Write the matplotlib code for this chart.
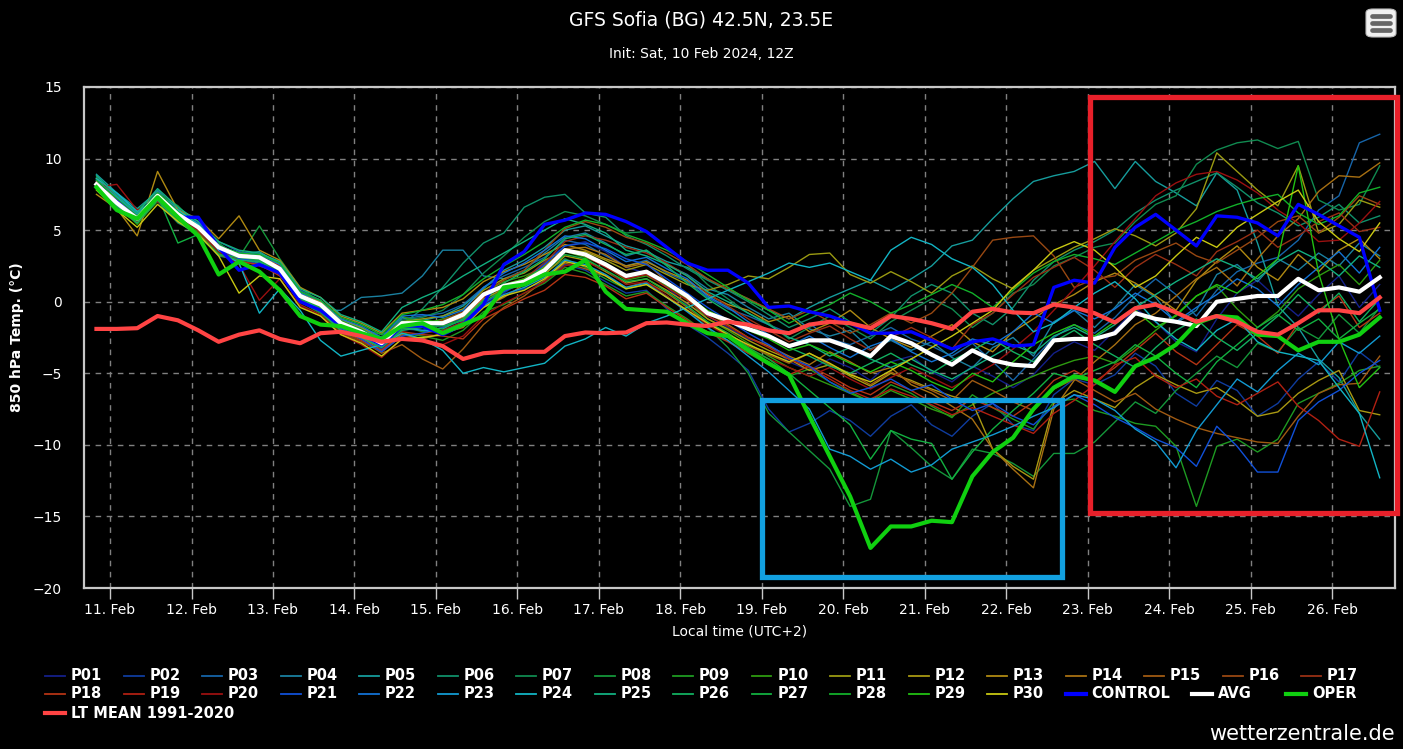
import numpy as np
import pandas as pd
import matplotlib
matplotlib.use("Agg")
import matplotlib.pyplot as plt
import matplotlib.dates as mdates
from matplotlib.patches import Rectangle, FancyBboxPatch
from matplotlib.lines import Line2D

plt.rcParams['font.family'] = ['Liberation Sans Narrow', 'DejaVu Sans']

# 6-hourly steps, local time (UTC+2), init 10 Feb 2024 12Z
times = pd.date_range("2024-02-10 20:00", periods=64, freq="6h")

P01 = [8.0, 6.8, 5.6, 7.2, 6.3, 5.4, 3.6, 2.8, 3.4, 2.0, 0.2, -0.5, -1.8, -2.5, -3.2, -2.0, -1.8, -2.2, -1.5, -0.2,
       0.6, 1.5, 2.8, 3.9, 4.2, 3.5, 2.4, 2.0, 1.0, -0.2, -1.0, -1.8, -2.6, -3.0, -4.2, -4.8, -4.0, -4.6, -5.5, -4.2,
       -3.8, -4.9, -5.6, -4.5, -5.2, -6.0, -5.1, -3.6, -2.8, -3.4, -2.0, -0.5, -1.4, -2.8, -3.5, -1.2, 0.6, 1.5, 0.2, -1.0,
       0.5, 1.8, -0.4, 1.2]
P02 = [8.4, 7.0, 6.0, 7.6, 6.0, 5.0, 3.9, 3.0, 2.6, 2.2, 0.6, -0.4, -1.9, -2.4, -3.3, -1.9, -2.0, -1.6, -1.2, -0.3,
       0.4, 0.9, 1.4, 2.6, 2.2, 1.4, 0.6, 0.8, -0.5, -1.6, -2.5, -3.6, -4.8, -7.5, -9.1, -8.5, -7.6, -8.3, -9.4, -8.0,
       -7.2, -8.6, -9.4, -8.0, -7.1, -8.6, -9.0, -6.5, -5.4, -5.8, -5.1, -3.6, -4.5, -6.4, -7.3, -5.5, -6.2, -8.0, -7.1, -5.4,
       -4.2, -5.6, -3.5, -4.6]
P03 = [8.2, 7.2, 6.1, 7.5, 6.2, 5.5, 4.2, 3.5, 3.3, 2.8, 0.8, 0.1, -1.2, -1.9, -2.6, -1.2, -1.0, -0.8, -0.2, 1.0,
       1.8, 2.4, 3.1, 4.3, 4.0, 3.2, 2.5, 2.9, 2.0, 1.4, 0.3, -0.5, -1.0, -1.6, -2.2, -1.5, -2.6, -3.0, -2.4, -1.8,
       -2.6, -3.1, -3.8, -2.9, -4.2, -5.5, -4.0, -2.5, -1.6, -2.2, -1.1, 0.4, 1.6, 0.5, -1.0, 0.8, 2.1, 2.7, 3.1, 4.3,
       6.4, 7.4, 11.1, 11.7]
P04 = [8.6, 7.5, 6.3, 7.8, 6.4, 5.6, 3.8, 3.0, 2.7, 2.5, 0.3, -0.6, -0.6, 0.3, 0.4, 0.6, 1.8, 3.6, 3.6, 1.8,
       1.6, 2.2, 3.4, 4.5, 4.8, 4.1, 3.2, 3.6, 2.6, 1.9, 0.9, 0.5, -0.4, -1.2, -0.8, -1.9, -2.4, -2.0, -3.3, -2.7,
       -3.4, -2.8, -3.9, -4.6, -3.2, -2.5, -3.8, -1.4, -0.6, -1.8, -0.4, 1.2, 0.3, -1.5, -0.6, 1.9, 2.6, 1.4, 3.0, 2.2,
       3.4, 2.5, 4.1, 3.2]
P05 = [8.9, 7.6, 6.5, 7.7, 6.5, 5.4, 4.0, 3.3, 3.5, 2.6, 0.7, 0.0, -1.3, -1.8, -2.7, -1.1, -1.3, -1.0, -0.3, 0.9,
       2.2, 2.9, 3.8, 5.0, 5.3, 4.6, 3.9, 3.5, 2.8, 2.4, 1.6, 0.8, 0.2, -0.6, -1.2, -0.4, 0.3, 0.9, 1.5, 0.8,
       1.6, 2.5, 3.9, 4.3, 5.8, 7.2, 8.4, 8.8, 9.1, 9.8, 7.9, 9.8, 8.4, 7.6, 6.7, 9.0, 7.8, 4.1, -0.3, -1.8,
       -4.0, -5.3, -7.8, -9.6]
P06 = [8.5, 7.3, 6.2, 7.0, 5.5, 4.8, 3.2, 2.9, 2.9, 1.9, 0.1, -0.8, -2.0, -2.6, -3.0, -1.6, -0.5, 1.0, 2.7, 4.1,
       4.8, 6.6, 7.3, 7.5, 6.2, 5.9, 4.6, 4.0, 3.2, 2.3, 1.5, 0.8, 0.0, -0.9, -1.8, -1.2, -0.5, -1.4, -2.2, -1.1,
       0.4, 1.2, 0.6, -0.8, -1.6, -0.4, 1.5, 2.8, 3.6, 4.2, 5.0, 6.2, 7.1, 7.8, 8.4, 9.0, 8.0, 6.9, 6.2, 5.3,
       5.9, 6.8, 5.5, 6.0]
P07 = [8.1, 6.6, 5.7, 7.3, 5.8, 5.0, 3.5, 3.3, 2.8, 2.3, 0.5, -0.3, -1.6, -2.2, -2.9, -1.3, -1.1, -0.6, 0.5, 2.0,
       3.2, 4.5, 5.6, 6.3, 6.0, 5.4, 4.8, 4.9, 3.8, 2.6, 1.2, 0.2, -0.8, -1.5, -2.6, -1.8, -1.0, -1.8, -2.6, -1.4,
       -0.6, 0.2, -0.5, -1.8, -0.8, 0.6, 1.2, 2.5, 3.1, 3.8, 4.1, 5.6, 6.8, 7.4, 9.6, 10.6, 11.1, 11.3, 10.7, 11.2,
       7.1, 6.4, 6.8, 9.5]
P08 = [8.7, 7.1, 6.4, 7.6, 6.7, 5.3, 4.1, 3.1, 5.3, 3.0, 1.0, -0.1, -1.4, -1.9, -2.3, -1.7, -2.1, -1.8, -1.0, 0.2,
       0.8, 1.2, 2.0, 3.0, 2.4, 1.6, 0.9, 1.2, 0.4, -0.6, -1.8, -3.2, -5.0, -7.8, -9.1, -10.4, -11.7, -14.3, -13.8, -9.0,
       -10.2, -11.5, -12.4, -10.3, -10.6, -11.3, -12.2, -10.6, -10.6, -9.8, -8.4, -7.0, -7.8, -6.2, -5.0, -3.8, -4.6, -2.9, -3.5, -1.8,
       -2.6, -0.9, -2.2, -0.4]
P09 = [7.9, 6.5, 5.5, 7.0, 5.9, 4.9, 3.4, 3.0, 3.2, 2.1, 0.0, -0.8, -2.1, -2.8, -3.5, -2.2, -2.4, -2.7, -2.0, -0.7,
       -0.2, 0.6, 1.3, 2.4, 2.0, 1.2, 0.4, 0.7, -0.3, -1.2, -2.2, -2.7, -3.6, -4.4, -5.2, -4.7, -5.6, -6.3, -7.0, -5.8,
       -6.4, -7.3, -8.1, -6.5, -7.4, -8.2, -8.9, -7.0, -6.8, -7.6, -8.0, -8.5, -8.7, -10.1, -14.3, -10.1, -9.6, -10.5, -9.6, -7.1,
       -6.4, -5.7, -4.8, -4.5]
P10 = [8.0, 6.9, 5.4, 7.1, 5.7, 5.1, 3.9, 3.4, 3.0, 2.5, 0.4, -0.1, -1.3, -2.0, -2.7, -1.0, -1.6, -1.2, -0.8, 0.6,
       1.4, 1.8, 2.4, 3.5, 3.1, 2.5, 1.5, 1.8, 1.1, 0.2, -1.2, -2.0, -2.9, -3.8, -4.6, -5.2, -5.8, -6.4, -7.0, -6.2,
       -6.8, -7.5, -8.0, -7.2, -6.4, -5.8, -5.2, -4.6, -4.1, -3.8, -4.3, -3.2, -2.0, -0.9, 0.4, 1.1, -0.5, -1.8, -0.7, 0.9,
       1.8, 2.6, 1.2, 2.9]
P11 = [8.2, 7.0, 5.9, 7.3, 6.0, 5.3, 3.7, 3.4, 3.1, 2.6, 0.6, 0.0, -1.2, -1.8, -2.5, -1.4, -1.2, -1.0, -0.5, 0.8,
       1.6, 2.0, 2.9, 3.6, 3.5, 2.9, 2.2, 2.6, 1.9, 1.2, 0.8, 1.2, 1.8, 1.6, 2.4, 3.3, 3.4, 1.9, 1.3, 2.1,
       1.4, 0.6, 1.8, 2.5, 1.6, 0.9, 2.2, 3.0, 3.8, 4.4, 5.1, 4.6, 3.9, 4.8, 6.5, 10.4, 9.1, 7.8, 6.7, 9.5,
       4.8, 5.4, 7.1, 6.6]
P12 = [8.3, 6.8, 5.7, 7.5, 6.2, 5.0, 3.6, 3.1, 2.9, 2.2, 0.3, -0.4, -1.7, -2.3, -3.0, -1.6, -1.4, -1.5, -1.1, 0.2,
       0.9, 1.2, 1.9, 3.2, 2.9, 2.1, 1.3, 1.6, 0.8, -0.1, -1.2, -1.9, -2.7, -3.4, -4.0, -4.8, -4.4, -5.2, -5.9, -5.0,
       -5.5, -6.1, -6.6, -7.0, -10.3, -11.5, -12.4, -7.1, -6.2, -6.8, -7.4, -6.0, -5.1, -5.8, -6.4, -6.0, -6.9, -8.0, -7.7, -6.4,
       -5.5, -4.8, -7.6, -7.9]
P13 = [7.5, 6.5, 4.6, 9.1, 6.4, 5.8, 4.4, 6.0, 3.6, 2.9, 1.0, 0.3, -1.0, -1.5, -2.2, -0.8, -0.6, -0.4, 0.2, 1.4,
       2.1, 2.6, 3.3, 4.0, 3.6, 3.0, 2.5, 2.8, 2.1, 1.5, 0.5, -0.2, -0.6, -1.4, -1.0, -2.1, -1.5, -0.6, -1.8, -2.6,
       -3.2, -2.4, -1.6, -2.8, -3.5, -2.1, -1.2, -0.2, 0.5, 1.4, 2.0, 1.3, 0.4, -0.6, 1.5, 2.8, 3.9, 2.4, 1.5, 3.3,
       2.1, 3.6, 4.4, 3.0]
P14 = [8.1, 7.2, 5.9, 7.2, 6.0, 5.3, 3.9, 3.3, 2.9, 2.4, 0.2, -0.5, -1.8, -2.5, -3.4, -2.3, -2.6, -2.2, -1.8, -0.4,
       0.3, 1.2, 2.5, 3.7, 3.8, 3.3, 2.4, 2.7, 1.4, 0.2, -0.8, -1.6, -2.5, -3.1, -3.8, -4.4, -3.5, -4.2, -5.0, -4.6,
       -5.8, -6.4, -7.3, -8.2, -10.3, -11.7, -13.0, -7.5, -5.5, -4.2, -3.0, -1.6, -0.8, 0.4, 1.6, 2.4, 1.1, 3.0, 4.6, 5.8,
       7.7, 8.8, 8.7, 9.7]
P15 = [8.4, 6.7, 5.8, 7.6, 6.2, 5.1, 3.7, 3.1, 3.2, 2.3, 0.5, -0.2, -1.7, -2.6, -3.6, -3.0, -4.0, -4.7, -3.3, -1.6,
       -0.4, 0.4, 1.5, 2.7, 2.3, 1.8, 1.0, 1.4, 0.6, -0.4, -1.5, -2.2, -3.1, -3.7, -4.3, -3.6, -4.4, -5.0, -5.8, -4.9,
       -5.6, -6.2, -6.9, -5.5, -6.2, -7.0, -7.6, -6.1, -5.4, -6.2, -7.0, -6.4, -7.5, -8.2, -8.8, -9.2, -9.5, -9.8, -9.9, -8.0,
       -6.4, -5.8, -5.7, -3.8]
P16 = [8.3, 7.0, 5.7, 7.4, 6.2, 5.2, 3.9, 3.2, 3.0, 2.4, 0.4, -0.1, -1.6, -2.0, -2.8, -1.6, -1.7, -1.3, -0.7, 0.6,
       1.5, 2.2, 3.6, 5.1, 5.6, 5.2, 4.5, 4.1, 3.4, 2.6, 1.6, 0.9, 0.2, -0.5, -1.2, -0.6, -1.4, -2.2, -1.6, -0.8,
       -1.5, -0.8, 0.6, 2.4, 4.3, 4.5, 4.6, 3.2, 1.0, 1.6, 1.8, 2.9, 3.5, 4.1, 3.2, 2.7, 3.6, 4.5, 5.6, 6.0,
       4.8, 5.9, 7.4, 6.8]
P17 = [8.6, 7.4, 6.0, 7.5, 6.0, 5.0, 3.6, 2.9, 2.5, 2.0, -0.2, -0.9, -2.2, -2.8, -3.5, -2.4, -2.2, -2.0, -1.4, -0.1,
       0.9, 1.6, 2.7, 4.2, 4.6, 4.3, 3.8, 3.4, 2.7, 1.8, 0.6, -0.3, -1.2, -2.0, -2.8, -2.2, -1.7, -2.6, -3.4, -2.5,
       -1.8, -2.5, -3.3, -1.6, -0.8, 0.5, 1.7, 2.4, 3.1, 2.2, 1.0, 2.4, 3.3, 2.6, 1.8, 3.5, 4.2, 5.0, 3.8, 4.6,
       5.6, 6.2, 4.9, 5.2]
P18 = [8.0, 6.9, 5.9, 7.1, 5.6, 4.8, 3.3, 2.8, 2.6, 1.8, 0.1, -0.6, -2.0, -2.7, -3.4, -2.1, -2.3, -2.4, -2.6, -1.2,
       -0.5, 0.2, 0.8, 1.9, 1.7, 1.1, 0.2, 0.6, -0.4, -1.3, -2.1, -2.8, -3.6, -4.2, -5.1, -4.5, -5.2, -6.0, -6.5, -5.6,
       -6.2, -7.0, -7.6, -6.8, -7.4, -8.0, -7.0, -5.5, -4.8, -5.6, -4.6, -3.4, -2.2, -3.5, -4.4, -3.0, -1.6, -2.4, -3.6, -1.5,
       -0.6, 0.4, -1.8, -0.8]
P19 = [8.2, 7.1, 5.6, 7.3, 6.1, 5.2, 3.8, 3.3, 3.1, 2.5, 0.4, -0.3, -1.5, -2.2, -3.1, -1.8, -1.5, -1.6, -1.0, 0.3,
       1.2, 1.6, 2.3, 3.6, 3.2, 2.4, 1.6, 1.9, 1.0, 0.1, -1.0, -1.7, -2.5, -3.2, -4.0, -4.6, -5.4, -6.2, -6.8, -6.1,
       -6.6, -7.2, -7.9, -7.4, -8.0, -8.6, -9.2, -7.8, -6.9, -5.8, -4.4, -3.9, -5.2, -6.0, -5.4, -6.6, -7.2, -6.4, -5.6, -7.3,
       -8.3, -9.6, -10.1, -6.3]
P20 = [8.0, 8.2, 6.4, 7.0, 5.9, 5.0, 3.5, 2.6, 0.1, 1.6, -0.3, -1.0, -2.3, -3.0, -3.9, -2.6, -2.8, -3.0, -2.4, -1.0,
       -0.1, 0.6, 1.4, 2.5, 2.8, 2.2, 1.2, 1.4, 0.4, -0.6, -1.6, -2.4, -3.3, -4.0, -4.6, -5.2, -4.6, -5.4, -6.1, -5.3,
       -4.6, -5.3, -6.0, -5.2, -4.4, -3.3, -2.1, -0.6, 0.9, 2.5, 4.2, 5.8, 7.4, 8.3, 8.9, 9.1, 8.5, 7.6, 6.4, 5.5,
       4.2, 4.3, 5.5, 7.0]
P21 = [8.3, 7.0, 5.9, 7.3, 6.0, 5.1, 3.7, 3.0, 2.9, 2.3, 0.2, -0.5, -1.9, -2.6, -3.5, -2.4, -2.2, -1.8, -1.3, -0.1,
       0.7, 1.4, 2.6, 3.9, 4.1, 3.7, 3.0, 2.6, 1.6, 0.6, -0.4, -1.3, -2.2, -3.0, -3.9, -4.5, -5.6, -6.4, -6.0, -5.4,
       -6.2, -5.8, -6.8, -7.6, -7.1, -8.0, -8.6, -7.3, -6.5, -7.2, -8.1, -8.8, -9.6, -10.2, -11.5, -8.7, -10.1, -11.9, -11.9, -8.3,
       -7.0, -6.2, -5.0, -4.1]
P22 = [8.1, 6.9, 5.8, 7.4, 6.3, 5.4, 3.9, 3.4, 3.3, 2.6, 0.6, 0.1, -1.2, -1.7, -2.5, -1.0, -0.9, -1.1, -0.6, 1.0,
       2.0, 2.7, 3.6, 4.6, 4.4, 3.6, 2.8, 3.1, 2.3, 1.6, 0.4, -0.4, -1.4, -2.3, -3.1, -2.4, -3.2, -3.9, -3.1, -2.6,
       -3.5, -4.2, -3.6, -2.6, -3.0, -2.1, -0.8, -1.5, -0.6, -1.2, -0.5, 0.6, -0.2, -1.4, -0.4, 0.5, 1.6, 0.9, -0.3, 1.2,
       2.4, 3.5, 2.0, 3.8]
P23 = [8.5, 7.3, 6.1, 7.6, 6.2, 5.3, 3.8, 3.2, 3.0, 2.3, 0.3, -0.6, -1.8, -2.4, -3.1, -1.8, -2.0, -2.1, -1.5, -0.3,
       0.5, 1.0, 1.7, 2.9, 2.6, 1.9, 1.0, 1.3, 0.3, -0.7, -1.8, -2.7, -3.8, -4.9, -6.2, -7.5, -10.3, -10.8, -11.7, -11.0,
       -11.9, -11.4, -10.3, -9.8, -9.3, -8.7, -8.0, -7.4, -6.5, -6.8, -7.6, -8.9, -9.8, -11.6, -9.0, -7.2, -5.4, -6.3, -4.8, -3.6,
       -4.4, -2.8, -3.6, -2.4]
P24 = [8.6, 7.6, 6.3, 7.2, 6.4, 5.4, 3.6, 2.7, -0.8, 0.9, -0.6, -2.7, -3.8, -3.4, -3.0, -2.2, -2.6, -3.4, -5.0, -4.6,
       -4.9, -4.6, -4.3, -3.1, -2.6, -1.8, -2.4, -1.5, -1.0, -0.4, 0.2, 0.8, 1.4, 2.0, 2.7, 2.4, 2.7, 2.1, 1.5, 3.6,
       4.5, 4.0, 3.0, 2.4, 1.2, -0.6, -2.1, -1.5, -0.4, 0.6, 1.4, 0.2, -1.4, -2.6, -3.4, -2.0, -1.2, -2.8, -3.5, -3.8,
       -4.1, -6.0, -7.8, -12.3]
P25 = [8.8, 7.4, 6.2, 7.9, 6.6, 5.6, 4.2, 3.6, 3.4, 2.8, 0.9, 0.3, -0.9, -1.4, -2.1, -0.4, 0.3, 0.9, 1.8, 2.6,
       3.4, 4.2, 5.0, 5.8, 5.4, 4.8, 3.6, 3.2, 2.6, 1.8, 0.7, 0.0, -0.8, -1.6, -2.5, -3.0, -3.8, -3.2, -4.0, -4.6,
       -4.0, -4.8, -5.4, -4.6, -3.8, -3.0, -3.6, -2.4, -1.8, -2.5, -1.6, -0.4, 0.5, 1.4, 2.2, 3.0, 2.4, 1.6, 2.8, 3.6,
       2.9, 1.8, 3.2, 2.4]
P26 = [8.0, 6.7, 5.5, 7.1, 5.6, 4.6, 3.3, 2.9, 2.8, 2.0, 0.0, -0.7, -2.0, -2.5, -3.2, -2.0, -1.8, -1.9, -1.2, 0.1,
       1.3, 2.1, 3.0, 4.4, 4.7, 4.0, 3.3, 3.6, 2.5, 1.3, 0.2, -0.7, -1.6, -2.4, -3.2, -3.8, -4.5, -5.0, -4.3, -3.6,
       -4.4, -5.0, -4.1, -3.4, -2.6, -3.5, -4.2, -2.8, -2.0, -3.0, -3.8, -4.6, -3.2, -2.0, -1.2, -2.5, -3.4, -2.2, -1.0, 0.5,
       -0.8, 0.6, -1.4, 0.2]
P27 = [8.2, 6.9, 5.7, 7.4, 4.1, 4.7, 3.3, 3.1, 2.9, 2.2, 0.2, -0.4, -1.6, -2.2, -3.0, -1.9, -1.7, -1.7, -1.3, 0.0,
       0.8, 1.3, 2.1, 3.3, 3.0, 2.2, 1.4, 1.6, 0.7, -0.3, -1.4, -2.2, -3.2, -4.0, -5.0, -6.2, -7.4, -8.6, -11.0, -9.0,
       -9.6, -9.9, -12.4, -10.5, -8.9, -7.6, -6.4, -5.0, -5.4, -4.8, -4.2, -3.0, -3.8, -5.0, -6.0, -4.2, -3.0, -1.8, -0.9, -2.0,
       -1.2, -2.6, -1.5, -0.5]
P28 = [8.5, 7.2, 6.0, 7.6, 6.3, 5.3, 3.9, 3.4, 3.3, 2.7, 0.7, 0.1, -1.1, -1.6, -2.3, -0.9, -0.6, -0.2, 0.5, 1.6,
       2.5, 3.3, 4.2, 5.2, 5.7, 5.4, 4.7, 4.2, 3.6, 2.8, 1.9, 1.0, 0.1, -0.6, -1.5, -0.8, -0.2, 0.6, 0.0, -0.8,
       -0.2, 0.5, 1.2, 0.6, -0.4, 0.8, 2.0, 2.8, 3.3, 3.0, 2.6, 3.4, 4.2, 5.0, 5.6, 6.3, 6.8, 7.2, 7.5, 6.2,
       5.4, 6.0, 7.6, 8.0]
P29 = [8.3, 7.0, 5.8, 7.3, 6.0, 5.2, 3.8, 3.2, 3.0, 2.4, 0.4, -0.2, -1.4, -2.0, -2.8, -1.4, -1.3, -1.4, -0.9, 0.5,
       1.2, 1.6, 2.4, 3.6, 3.3, 2.7, 1.8, 2.1, 1.2, 0.4, -0.6, -1.3, -2.0, -2.6, -3.4, -3.0, -3.6, -4.3, -4.9, -4.2,
       -4.8, -5.6, -6.2, -5.0, -5.6, -4.2, -3.0, -2.2, -1.6, -2.4, -1.4, -0.6, -1.8, -1.0, 0.4, 1.2, 0.6, 1.8, 3.0, 9.5,
       2.0, -2.6, -6.0, -4.6]
P30 = [7.8, 6.4, 5.2, 6.8, 5.6, 4.7, 3.2, 0.6, 1.8, 1.6, -0.4, -1.0, -2.3, -2.9, -3.8, -2.6, -2.5, -2.3, -1.7, -0.4,
       0.4, 0.8, 1.6, 2.8, 2.5, 1.8, 0.9, 1.2, 0.3, -0.6, -1.5, -2.3, -3.0, -3.6, -4.2, -3.6, -4.3, -5.1, -5.6, -4.8,
       -4.0, -3.2, -2.4, -1.5, -0.6, 1.0, 2.2, 3.6, 4.2, 3.6, 2.4, 1.0, 1.8, 3.2, 4.5, 3.8, 5.2, 6.1, 7.0, 7.8,
       5.6, 4.4, 3.5, 5.5]

control = [8.0, 7.0, 5.8, 7.3, 5.9, 5.9, 3.8, 2.2, 2.6, 2.0, 0.0, -0.6, -1.7, -2.3, -3.0, -1.7, -1.7, -2.3, -1.6, -0.2,
           2.6, 3.5, 5.4, 5.7, 6.2, 6.1, 5.6, 4.9, 3.8, 2.7, 2.2, 2.2, 1.3, -0.4, -0.3, -0.7, -1.0, -1.5, -2.2, -2.2,
           -2.1, -2.7, -3.3, -2.8, -2.6, -3.1, -3.0, 1.0, 1.5, 1.3, 3.8, 5.2, 6.1, 5.0, 3.9, 6.0, 5.9, 5.5, 4.6, 6.8,
           6.1, 5.3, 4.5, -0.6]
avg = [8.2, 6.9, 5.8, 7.4, 6.1, 5.2, 3.8, 3.2, 3.1, 2.3, 0.4, -0.2, -1.5, -2.1, -2.9, -1.5, -1.5, -1.5, -0.9, 0.5,
       1.1, 1.4, 2.2, 3.6, 3.3, 2.6, 1.8, 2.1, 1.3, 0.4, -0.8, -1.3, -1.9, -2.4, -3.1, -2.7, -2.7, -3.2, -3.8, -2.4,
       -2.9, -3.7, -4.4, -3.4, -4.1, -4.4, -4.5, -2.7, -2.6, -2.6, -2.2, -0.8, -1.2, -1.4, -1.7, 0.0, 0.2, 0.4, 0.4, 1.6,
       0.8, 1.0, 0.7, 1.7]
oper = [8.0, 6.4, 5.8, 7.3, 5.9, 4.6, 1.9, 2.8, 2.1, 0.8, -1.0, -1.6, -1.7, -2.2, -2.6, -1.7, -1.5, -2.2, -1.6, -1.0,
        1.0, 1.2, 1.9, 2.1, 2.9, 0.7, -0.5, -0.6, -0.7, -1.5, -2.2, -2.4, -3.4, -4.3, -5.1, -8.0, -10.8, -13.6, -17.2, -15.7,
        -15.7, -15.3, -15.4, -12.2, -10.5, -9.5, -7.5, -6.0, -5.2, -5.5, -6.3, -4.5, -3.9, -3.0, -1.5, -1.0, -1.1, -2.3, -2.4, -3.4,
        -2.8, -2.8, -2.3, -1.1]
lt_mean = [-1.9, -1.9, -1.85, -1.0, -1.3, -2.0, -2.8, -2.3, -2.0, -2.6, -2.9, -2.2, -2.1, -2.4, -2.8, -2.6, -2.7, -3.1, -4.0, -3.6,
           -3.5, -3.5, -3.5, -2.4, -2.15, -2.2, -2.15, -1.5, -1.45, -1.6, -1.7, -1.4, -1.6, -2.0, -2.2, -1.6, -1.4, -1.5, -1.85, -1.0,
           -1.2, -1.5, -1.9, -0.7, -0.5, -0.75, -0.8, -0.2, -0.4, -0.8, -1.45, -0.45, -0.2, -0.75, -1.4, -1.0, -1.4, -2.1, -2.3, -1.5,
           -0.6, -0.6, -0.8, 0.3]

members = [P01, P02, P03, P04, P05, P06, P07, P08, P09, P10, P11, P12, P13, P14, P15,
           P16, P17, P18, P19, P20, P21, P22, P23, P24, P25, P26, P27, P28, P29, P30]
member_names = ["P%02d" % (i + 1) for i in range(30)]
member_colors = ["#14208a", "#0f3c9e", "#1664a8", "#1a80a0", "#169c9c", "#10906a", "#108a50", "#14963a",
                 "#1e9a22", "#2e9a10", "#9a9a12", "#a89812", "#b08a12", "#a87012", "#a05a12", "#984812",
                 "#983014", "#b43414", "#b02012", "#9a1010", "#1050d8", "#1272d4", "#129ad2", "#12b4c4",
                 "#12b080", "#12b060", "#12b040", "#12b02a", "#22c012", "#c8c812"]

W, H = 1403, 749
fig = plt.figure(figsize=(W / 100, H / 100), dpi=100, facecolor="black")
ax = fig.add_axes([84 / W, 1 - 588 / H, (1395 - 84) / W, (588 - 87) / H])
ax.set_facecolor("black")

for vals, c in zip(members, member_colors):
    ax.plot(times, vals, color=c, lw=1.0)
ax.plot(times, control, color="#0000ff", lw=2.4)
ax.plot(times, avg, color="white", lw=3.0)
ax.plot(times, oper, color="#10d010", lw=3.0)
ax.plot(times, lt_mean, color="#ff4444", lw=3.0)

ax.set_ylim(-20, 15)
ax.set_yticks(np.arange(-20, 16, 5))
ax.set_xlim(pd.Timestamp("2024-02-10 16:20"), pd.Timestamp("2024-02-26 18:30"))
ax.xaxis.set_major_locator(mdates.DayLocator())
ax.xaxis.set_major_formatter(mdates.DateFormatter("%d. %b"))
ax.grid(True, color="#808080", lw=1.0, linestyle=(0, (4, 4)))
ax.tick_params(axis="x", colors="#c8c8c8", labelcolor="white", length=8, width=1, labelsize=10, pad=3)
ax.tick_params(axis="y", length=0, labelcolor="white", labelsize=10, pad=16)
for s in ax.spines.values():
    s.set_color("#c8c8c8")
    s.set_linewidth(1.6)

ax.set_ylabel("850 hPa Temp. (°C)", color="white", fontsize=10, fontweight="bold", labelpad=6)
ax.set_xlabel("Local time (UTC+2)", color="white", fontsize=10, labelpad=5)

# annotation boxes
x0 = mdates.date2num(pd.Timestamp("2024-02-19 00:00"))
x1 = mdates.date2num(pd.Timestamp("2024-02-22 16:20"))
ax.add_patch(Rectangle((x0, -19.2), x1 - x0, 12.35, fill=False, ec="#12a0e0", lw=3.8, clip_on=False, zorder=10))
x0 = mdates.date2num(pd.Timestamp("2024-02-23 00:40"))
x1 = mdates.date2num(pd.Timestamp("2024-02-26 19:00"))
ax.add_patch(Rectangle((x0, -14.75), x1 - x0, 29.05, fill=False, ec="#e8202a", lw=3.8, clip_on=False, zorder=10))

fig.text(0.5, 1 - 20 / H, "GFS Sofia (BG) 42.5N, 23.5E", color="white", fontsize=13.5, ha="center", va="center")
fig.text(0.5, 1 - 54 / H, "Init: Sat, 10 Feb 2024, 12Z", color="white", fontsize=10, ha="center", va="center")
fig.text(1395 / W, 1 - 734 / H, "wetterzentrale.de", color="white", fontsize=15, ha="right", va="center")

# menu icon
fig.patches.append(FancyBboxPatch((1366 / W, 1 - 37 / H), 30 / W, 28 / H, boxstyle="round,pad=0,rounding_size=0.005",
                                  transform=fig.transFigure, fc="#f0f0f0", ec="#bbbbbb", lw=0.8))
for yy in (16, 23, 30):
    fig.add_artist(Line2D([1372 / W, 1390 / W], [1 - yy / H, 1 - yy / H], color="#666666", lw=3.4,
                          solid_capstyle="round", transform=fig.transFigure))

# legend grid
names = member_names + ["CONTROL", "AVG", "OPER", "LT MEAN 1991-2020"]
colors = member_colors + ["#0000ff", "white", "#10d010", "#ff4444"]
widths = [1.3] * 30 + [3.0, 3.0, 3.0, 3.0]
rows_y = [676, 694, 713]
for i, (n, c, w) in enumerate(zip(names, colors, widths)):
    if i < 17:
        r, tx = 0, 71 + i * 78.5
    elif i < 31:
        r, tx = 1, 71 + (i - 17) * 78.5
    elif n == "AVG":
        r, tx = 1, 1218
    elif n == "OPER":
        r, tx = 1, 1312
    else:
        r, tx = 2, 71
    yy = 1 - rows_y[r] / H
    fig.add_artist(Line2D([(tx - 26) / W, (tx - 6) / W], [yy, yy], color=c, lw=w, transform=fig.transFigure))
    fig.text(tx / W, yy, n, color="white", fontsize=10.5, fontweight="bold", ha="left", va="center")

fig.savefig("out.png", dpi=100, facecolor="black")
